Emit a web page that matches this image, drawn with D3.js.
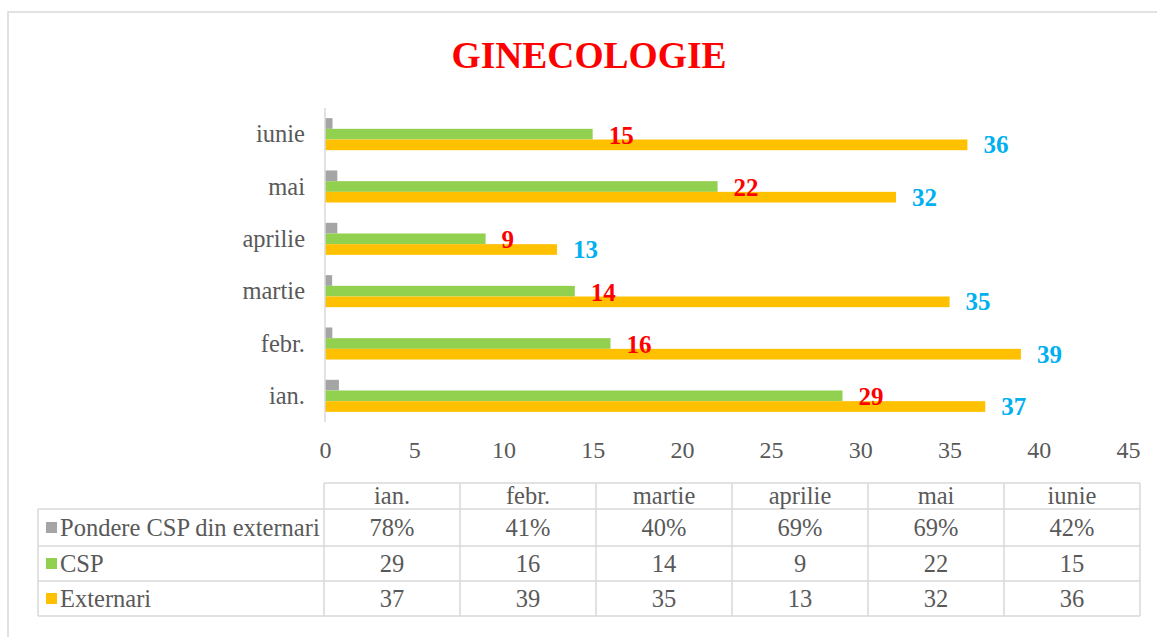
<!DOCTYPE html>
<html>
<head>
<meta charset="utf-8">
<script src="https://cdn.jsdelivr.net/npm/d3@7"></script>
<style>
  body { margin: 0; background: #fff; }
  svg text { font-family: "Liberation Serif", "Times New Roman", serif; }
</style>
</head>
<body>
<div id="chart"></div>
<script>
const months = ["ian.", "febr.", "martie", "aprilie", "mai", "iunie"];
const pondere = [0.78, 0.41, 0.40, 0.69, 0.69, 0.42];
const csp = [29, 16, 14, 9, 22, 15];
const externari = [37, 39, 35, 13, 32, 36];
const xTicks = [0, 5, 10, 15, 20, 25, 30, 35, 40, 45];

const seriesNames = ["Pondere CSP din externari", "CSP", "Externari"];
const colors = ["#a5a5a5", "#92d050", "#ffc000"];

const W = 1157, H = 637;
const plot = { left: 325, right: 1128, top: 108, bottom: 422 };
const serif = "'Liberation Serif', 'Times New Roman', serif";
const textSize = "24.5px";

const svg = d3.select("#chart")
    .append("svg")
    .attr("width", W)
    .attr("height", H)
    .attr("font-family", serif);

// outer frame
svg.append("rect")
    .attr("x", 8).attr("y", 12)
    .attr("width", W + 10).attr("height", H + 10)
    .attr("fill", "none")
    .attr("stroke", "#d9d9d9")
    .attr("stroke-width", 1.5);

// title
svg.append("text")
    .attr("x", 589).attr("y", 68)
    .attr("text-anchor", "middle")
    .style("font-size", "37.5px")
    .style("font-weight", "bold")
    .attr("fill", "#ff0000")
    .text("GINECOLOGIE");

const rows = months.map((m, i) => ({
    month: m,
    values: [pondere[i], csp[i], externari[i]]
}));

const x = d3.scaleLinear()
    .domain([0, 45])
    .range([plot.left, plot.right]);

const y = d3.scaleBand()
    .domain(months.slice().reverse())
    .range([plot.top, plot.bottom])
    .paddingInner(0.388)
    .paddingOuter(0.194);

const ySub = d3.scaleBand()
    .domain([0, 1, 2])
    .range([0, y.bandwidth()]);

// bars
const groups = svg.selectAll(".grp")
    .data(rows)
    .enter()
    .append("g")
    .attr("transform", d => `translate(0,${y(d.month)})`);

groups.selectAll("rect")
    .data(d => d.values.map((v, k) => ({ v, k })))
    .enter()
    .append("rect")
    .attr("x", x(0))
    .attr("y", d => ySub(d.k))
    .attr("width", d => x(d.v) - x(0))
    .attr("height", ySub.bandwidth())
    .attr("fill", d => colors[d.k]);

// data labels
groups.append("text")
    .attr("x", d => x(d.values[1]) + 16)
    .attr("y", ySub(1) + ySub.bandwidth() / 2 + 9.5)
    .attr("fill", "#ff0000")
    .style("font-size", "25px")
    .style("font-weight", "bold")
    .text(d => d.values[1]);

groups.append("text")
    .attr("x", d => x(d.values[2]) + 16)
    .attr("y", ySub(2) + ySub.bandwidth() / 2 + 8.5)
    .attr("fill", "#00b0f0")
    .style("font-size", "25px")
    .style("font-weight", "bold")
    .text(d => d.values[2]);

// vertical axis line
svg.append("line")
    .attr("x1", x(0)).attr("x2", x(0))
    .attr("y1", plot.top).attr("y2", plot.bottom)
    .attr("stroke", "#d9d9d9")
    .attr("stroke-width", 1.5);

// category labels
svg.selectAll(".cat")
    .data(months)
    .enter()
    .append("text")
    .attr("x", 305)
    .attr("y", d => y(d) + y.bandwidth() / 2 + 8)
    .attr("text-anchor", "end")
    .attr("fill", "#595959")
    .style("font-size", textSize)
    .text(d => d);

// x axis labels
const xAxis = svg.append("g")
    .attr("transform", `translate(0,${plot.bottom})`)
    .call(d3.axisBottom(x).tickValues(xTicks).tickSize(0).tickPadding(19));
xAxis.attr("font-family", serif).attr("font-size", null);
xAxis.select(".domain").remove();
xAxis.selectAll("text")
    .attr("fill", "#595959")
    .style("font-size", "24px");

// data table
const colX = d3.scaleBand()
    .domain(months)
    .range([324, 1140]);
const rowY = [483, 509, 546, 581, 616];
const tableLeft = 38;
const lineColor = "#d9d9d9";

const table = svg.append("g");

// horizontal lines
rowY.forEach((ry, i) => {
    table.append("line")
        .attr("x1", i === 0 ? 324 : tableLeft).attr("x2", 1140)
        .attr("y1", ry).attr("y2", ry)
        .attr("stroke", lineColor).attr("stroke-width", 1.5);
});
// vertical lines
table.append("line")
    .attr("x1", tableLeft).attr("x2", tableLeft)
    .attr("y1", rowY[1]).attr("y2", rowY[4])
    .attr("stroke", lineColor).attr("stroke-width", 1.5);
months.concat(["end"]).forEach(m => {
    const lx = m === "end" ? 1140 : colX(m);
    table.append("line")
        .attr("x1", lx).attr("x2", lx)
        .attr("y1", rowY[0]).attr("y2", rowY[4])
        .attr("stroke", lineColor).attr("stroke-width", 1.5);
});

// header
table.selectAll(".hdr")
    .data(months)
    .enter()
    .append("text")
    .attr("x", d => colX(d) + colX.bandwidth() / 2)
    .attr("y", (rowY[0] + rowY[1]) / 2 + 7.5)
    .attr("text-anchor", "middle")
    .attr("fill", "#595959")
    .style("font-size", textSize)
    .text(d => d);

const tableRows = [
    pondere.map(v => Math.round(v * 100) + "%"),
    csp.map(String),
    externari.map(String)
];

tableRows.forEach((vals, r) => {
    const cy = (rowY[r + 1] + rowY[r + 2]) / 2;
    table.append("rect")
        .attr("x", 46).attr("y", cy - 5.5)
        .attr("width", 11).attr("height", 11)
        .attr("fill", colors[r]);
    table.append("text")
        .attr("x", 60).attr("y", cy + 8)
        .attr("fill", "#595959")
        .style("font-size", textSize)
        .text(seriesNames[r]);
    table.selectAll(null)
        .data(vals)
        .enter()
        .append("text")
        .attr("x", (d, i) => colX(months[i]) + colX.bandwidth() / 2)
        .attr("y", cy + 8)
        .attr("text-anchor", "middle")
        .attr("fill", "#595959")
        .style("font-size", textSize)
        .text(d => d);
});
</script>
</body>
</html>
